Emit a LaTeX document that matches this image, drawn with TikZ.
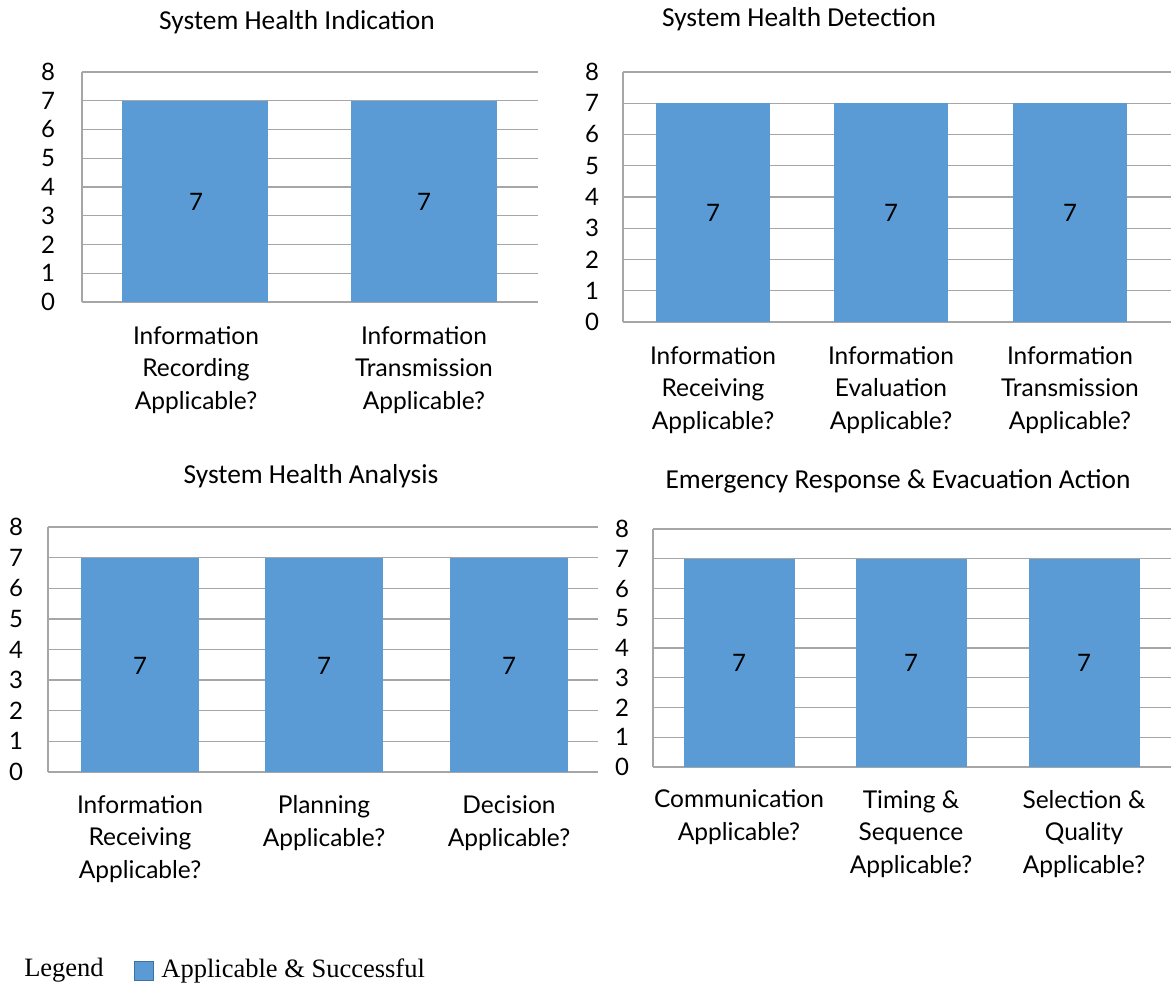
\documentclass[tikz,border=0pt]{standalone}
\usepackage{fontspec}
\setmainfont{Lato}
\newfontfamily\titlefont{Carlito}
\newfontfamily\legendfont{Liberation Serif}
\usetikzlibrary{positioning}
\definecolor{barblue}{HTML}{5B9BD5}
\definecolor{gridgray}{HTML}{A6A6A6}
\definecolor{boxedge}{HTML}{41719C}
\begin{document}
\begin{tikzpicture}[x=1pt,y=-1pt]
\tikzstyle{every node}+=[inner sep=0pt]
\tikzstyle{charttitle}=[font=\titlefont\fontsize{27.4}{32}\selectfont]
\tikzstyle{tick}=[font=\fontsize{24}{28}\selectfont]
\tikzstyle{cat}=[font=\fontsize{24.5}{32.5}\selectfont, align=center]
\tikzstyle{val}=[font=\fontsize{24}{28}\selectfont]
\tikzstyle{bar}=[fill=barblue]
\tikzstyle{grid}=[draw=gridgray, line width=1.3pt]
\useasboundingbox (0,0) rectangle (1171,984);
% System Health Indication
\node [charttitle] (indtitle) at (297,22) {System Health Indication};
\foreach \k in {0,...,8} {
\draw [grid] (82,{302-\k*28.75}) -- (538,{302-\k*28.75});
\node [tick] (indy\k) at (48,{302-\k*28.75}) {\k};
}
\draw [grid] (82,72) -- (82,302);
\fill [bar] (122,101) rectangle (268,302);
\fill [bar] (351,101) rectangle (497,302);
\node [val] (indval1) at (196,202) {7};
\node [val] (indval2) at (424,202) {7};
\node [cat] (indcat1) at (196,370) {Information\\Recording\\Applicable?};
\node [cat] (indcat2) at (424,370) {Information\\Transmission\\Applicable?};
% System Health Detection
\node [charttitle] (dettitle) at (799,19) {System Health Detection};
\foreach \k in {0,...,8} {
\draw [grid] (623,{322-\k*31.25}) -- (1171,{322-\k*31.25});
\node [tick] (dety\k) at (592,{322-\k*31.25}) {\k};
}
\draw [grid] (623,72) -- (623,322);
\fill [bar] (656,103) rectangle (770,322);
\fill [bar] (834,103) rectangle (948,322);
\fill [bar] (1013,103) rectangle (1127,322);
\node [val] (detval1) at (713,213) {7};
\node [val] (detval2) at (891,213) {7};
\node [val] (detval3) at (1070,213) {7};
\node [cat] (detcat1) at (713,390) {Information\\Receiving\\Applicable?};
\node [cat] (detcat2) at (891,390) {Information\\Evaluation\\Applicable?};
\node [cat] (detcat3) at (1070,390) {Information\\Transmission\\Applicable?};
% System Health Analysis
\node [charttitle] (anatitle) at (311,476) {System Health Analysis};
\foreach \k in {0,...,8} {
\draw [grid] (48,{772-\k*30.625}) -- (598,{772-\k*30.625});
\node [tick] (anay\k) at (16,{772-\k*30.625}) {\k};
}
\draw [grid] (48,527) -- (48,772);
\fill [bar] (81,557.6) rectangle (199,772);
\fill [bar] (265,557.6) rectangle (383,772);
\fill [bar] (450,557.6) rectangle (568,772);
\node [val] (anaval1) at (140,666) {7};
\node [val] (anaval2) at (324,666) {7};
\node [val] (anaval3) at (509,666) {7};
\node [cat] (anacat1) at (140,839) {Information\\Receiving\\Applicable?};
\node [cat] (anacat2) at (324,823) {Planning\\Applicable?};
\node [cat] (anacat3) at (509,823) {Decision\\Applicable?};
% Emergency Response & Evacuation Action
\node [charttitle] (emtitle) at (898,481) {Emergency Response \& Evacuation Action};
\foreach \k in {0,...,8} {
\draw [grid] (653,{767-\k*29.75}) -- (1171,{767-\k*29.75});
\node [tick] (emy\k) at (622,{767-\k*29.75}) {\k};
}
\draw [grid] (653,529) -- (653,767);
\fill [bar] (684,558.75) rectangle (795,767);
\fill [bar] (856,558.75) rectangle (967,767);
\fill [bar] (1029,558.75) rectangle (1140,767);
\node [val] (emval1) at (739,663) {7};
\node [val] (emval2) at (911,663) {7};
\node [val] (emval3) at (1084,663) {7};
\node [cat] (emcat1) at (739,817) {Communication\\Applicable?};
\node [cat] (emcat2) at (911,834) {Timing \&\\Sequence\\Applicable?};
\node [cat] (emcat3) at (1084,834) {Selection \&\\Quality\\Applicable?};
% legend
\node [font=\legendfont\fontsize{26.5}{30}\selectfont] (legend) at (64,970) {Legend};
\node [draw=boxedge, fill=barblue, line width=1.5pt, minimum size=19pt] (legbox) at (144,971) {};
\node [font=\legendfont\fontsize{26.5}{30}\selectfont, right=7pt of legbox] (legtext) {Applicable \& Successful};
\end{tikzpicture}
\end{document}
